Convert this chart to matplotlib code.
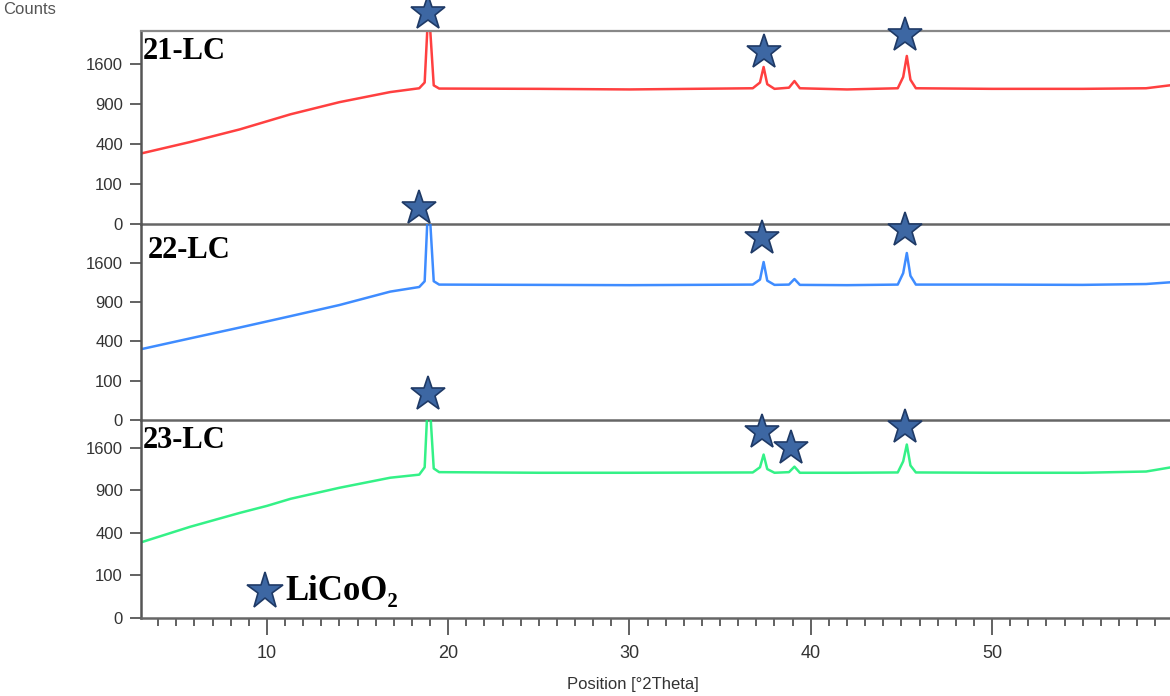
import numpy as np
import matplotlib
matplotlib.use("Agg")
import matplotlib.pyplot as plt
from matplotlib.ticker import FixedLocator, MultipleLocator

# XRD patterns (2theta in degrees, intensity in counts)
theta_21 = [3.1, 5.75, 8.5, 11.3, 14.0, 16.8, 18.4, 18.7, 18.85, 19.0, 19.2, 19.5, 25.0, 30.0,
            36.8, 37.2, 37.4, 37.6, 38.0, 38.8, 39.1, 39.4, 42.0, 44.8, 45.1, 45.3, 45.5, 45.8,
            50.0, 55.0, 58.5, 59.8]
counts_21 = [310, 417, 557, 750, 926, 1086, 1150, 1250, 2400, 2400, 1200, 1145, 1140, 1130,
             1150, 1250, 1540, 1220, 1140, 1160, 1276, 1150, 1130, 1150, 1350, 1765, 1300, 1150,
             1140, 1140, 1150, 1200]

theta_22 = [3.1, 5.75, 8.5, 11.3, 14.0, 16.8, 18.4, 18.7, 18.85, 19.0, 19.2, 19.5, 25.0, 30.0,
            36.8, 37.2, 37.4, 37.6, 38.0, 38.8, 39.1, 39.4, 42.0, 44.8, 45.1, 45.3, 45.5, 45.8,
            50.0, 55.0, 58.5, 59.8]
counts_22 = [327, 432, 555, 700, 858, 1070, 1148, 1250, 2600, 2600, 1250, 1190, 1185, 1180,
             1190, 1280, 1620, 1260, 1185, 1190, 1290, 1185, 1180, 1190, 1400, 1810, 1350, 1190,
             1190, 1185, 1200, 1230]

theta_23 = [3.1, 5.75, 8.5, 10.0, 11.3, 14.0, 16.8, 18.4, 18.7, 18.85, 19.0, 19.2, 19.5, 25.0, 30.0,
            36.8, 37.2, 37.4, 37.6, 38.0, 38.8, 39.1, 39.4, 42.0, 44.8, 45.1, 45.3, 45.5, 45.8,
            50.0, 55.0, 58.5, 59.8]
counts_23 = [315, 455, 606, 690, 780, 932, 1082, 1130, 1250, 2400, 2400, 1230, 1170, 1160, 1160,
             1165, 1250, 1470, 1220, 1160, 1170, 1260, 1160, 1160, 1165, 1350, 1657, 1280, 1165,
             1160, 1160, 1180, 1245]

# LiCoO2 reflections marked on each pattern
star_x_21 = [18.9, 37.4, 45.2]
star_y_21 = [2790, 1850, 2240]
star_x_22 = [18.4, 37.3, 45.2]
star_y_22 = [2920, 2150, 2340]
star_x_23 = [18.9, 37.3, 38.9, 45.2]
star_y_23 = [2760, 1900, 1600, 2020]

samples = ["21-LC", "22-LC", "23-LC"]
colors = ["#ff2b2b", "#2a80ff", "#1ef07a"]
ytick_vals = [0, 100, 400, 900, 1600]
xtick_vals = [10, 20, 30, 40, 50]

narrow = ["Liberation Sans Narrow", "Liberation Sans"]
serif = ["Liberation Serif", "DejaVu Serif"]

W, H = 1170, 696
fig = plt.figure(figsize=(W / 100, H / 100), dpi=100)

# panel boxes in pixels: (top, bottom, ymax in counts)
boxes = [(31, 223.5, 2330), (223.5, 420, 2506), (420, 617.5, 2160)]
series = [(theta_21, counts_21, star_x_21, star_y_21),
          (theta_22, counts_22, star_x_22, star_y_22),
          (theta_23, counts_23, star_x_23, star_y_23)]
label_pos = [(0.002, 0.891), (0.007, 0.865), (0.002, 0.894)]

left_px = 141
axes = []
for i, ((top, bot, ymax), (tx, cy, sx, sy)) in enumerate(zip(boxes, series)):
    ax = fig.add_axes([left_px / W, 1 - bot / H, (W - left_px) / W, (bot - top) / H])
    ax.patch.set_visible(False)
    ax.set_yscale("function", functions=(lambda v: np.sqrt(np.clip(v, 0, None)), np.square))
    ax.set_xlim(3.05, 59.82)
    ax.set_ylim(0, ymax)
    ax.plot(tx, cy, color=colors[i], lw=1.8, alpha=0.9, zorder=2)
    ax.plot(sx, sy, linestyle="none", marker="*", ms=26, mfc="#3d67a3", mec="#1f3a66",
            mew=1.2, clip_on=False, zorder=5)
    ax.text(label_pos[i][0], label_pos[i][1], samples[i], transform=ax.transAxes,
            family=serif, fontweight="bold", fontsize=22, va="center", ha="left", zorder=6)

    ax.yaxis.set_major_locator(FixedLocator(ytick_vals))
    ax.set_yticklabels([str(v) for v in ytick_vals], family=narrow, fontsize=12, color="#333333")
    ax.tick_params(axis="y", direction="out", length=8, width=1.3, color="#555555", pad=5)

    ax.spines["right"].set_visible(False)
    ax.spines["top"].set_visible(i == 0)
    ax.spines["top"].set_color("#888888")
    ax.spines["top"].set_linewidth(1.6)
    ax.spines["left"].set_color("#555555")
    ax.spines["left"].set_linewidth(1.8)
    ax.spines["bottom"].set_color("#666666")
    ax.spines["bottom"].set_linewidth(1.8)

    if i < 2:
        ax.tick_params(axis="x", which="both", bottom=False, labelbottom=False)
    else:
        ax.xaxis.set_major_locator(FixedLocator(xtick_vals))
        ax.xaxis.set_minor_locator(MultipleLocator(1))
        ax.set_xticklabels([str(v) for v in xtick_vals], family=narrow, fontsize=13,
                           color="#333333")
        ax.tick_params(axis="x", which="major", direction="out", length=12, width=1.3,
                       color="#555555", pad=8)
        ax.tick_params(axis="x", which="minor", direction="out", length=6, width=1.3,
                       color="#555555")
    axes.append(ax)

# phase key inside the lowest panel
ax3 = axes[2]
ax3.plot([9.9], [38], linestyle="none", marker="*", ms=28, mfc="#3d67a3", mec="#1f3a66",
         mew=1.2, zorder=5)
ax3.text(11.0, 38, "LiCoO\u2082", family=serif, fontweight="bold", fontsize=25,
         va="center", ha="left")

fig.text(633 / W, 1 - 685 / H, "Position [\u00b02Theta]", family=narrow, fontsize=12,
         color="#333333", ha="center", va="center")
fig.text(30 / W, 1 - 9 / H, "Counts", family=narrow, fontsize=12, color="#555555",
         ha="center", va="center")

fig.savefig("out.png", dpi=100)
